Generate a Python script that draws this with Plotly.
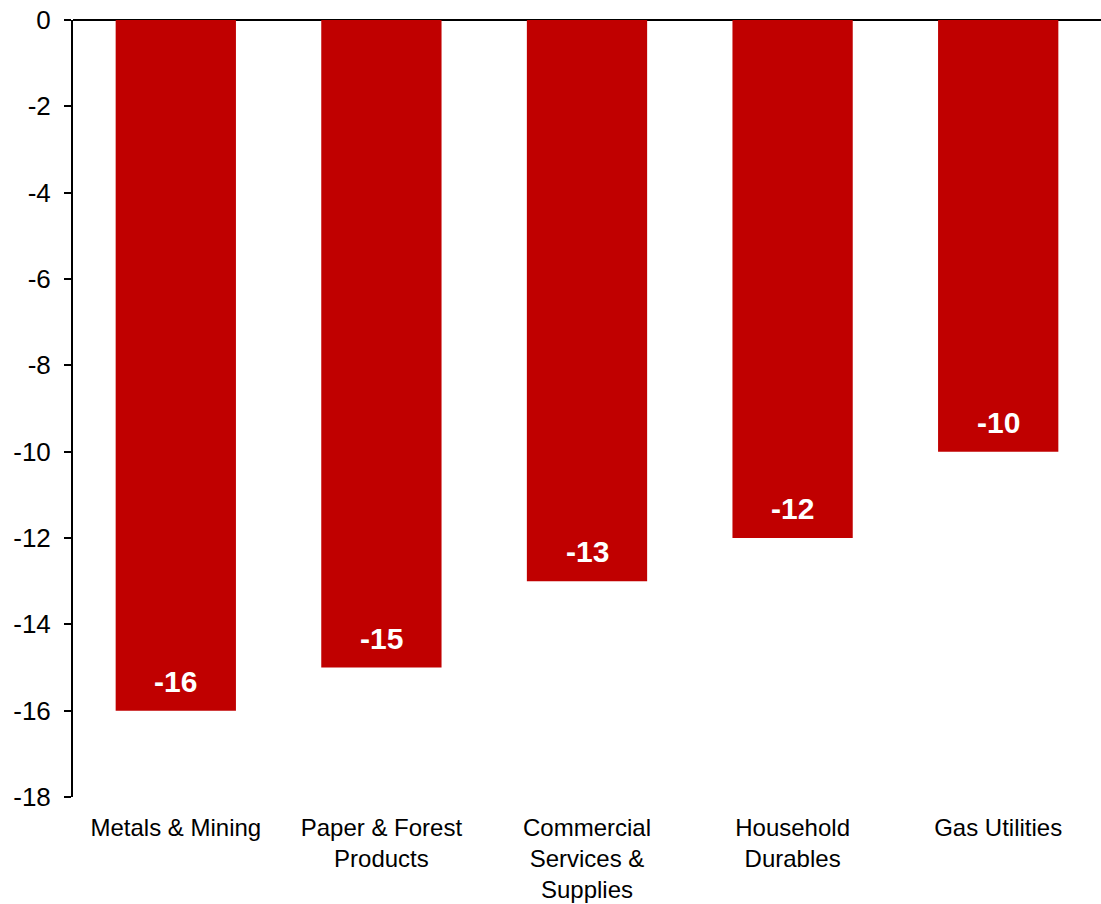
import plotly.graph_objects as go

categories = ["Metals & Mining", "Paper & Forest<br>Products", "Commercial<br>Services &<br>Supplies",
              "Household<br>Durables", "Gas Utilities"]
values = [-16, -15, -13, -12, -10]
y_ticks = [0, -2, -4, -6, -8, -10, -12, -14, -16, -18]

FONT = "Liberation Sans, Arial"

fig = go.Figure(go.Bar(
    x=categories,
    y=values,
    marker=dict(color="#C00000", line=dict(width=0)),
    width=0.585,
    hoverinfo="x+y",
))

# value labels sitting just inside the end of each bar
for cat, v in zip(categories, values):
    fig.add_annotation(
        x=cat, y=v, text=f"<b>{v}</b>",
        showarrow=False, yanchor="bottom", yshift=11,
        font=dict(family=FONT, size=30, color="white"),
    )

fig.update_layout(
    width=1101,
    height=904,
    margin=dict(l=73, r=0, t=20, b=107),
    plot_bgcolor="white",
    paper_bgcolor="white",
    font=dict(family=FONT, size=22, color="black"),
    showlegend=False,
    xaxis=dict(
        showline=False,
        showgrid=False,
        zeroline=False,
        ticks="",
        tickfont=dict(size=24),
        ticklabelstandoff=14,
        automargin=False,
    ),
    yaxis=dict(
        range=[-18, 0],
        tickvals=y_ticks,
        ticktext=[str(v) for v in y_ticks],
        showline=True,
        linecolor="black",
        linewidth=2,
        ticks="outside",
        ticklen=7,
        tickwidth=2,
        tickcolor="black",
        showgrid=False,
        zeroline=True,
        zerolinecolor="black",
        zerolinewidth=2,
        tickfont=dict(size=26),
        ticklabelstandoff=8,
        automargin=False,
    ),
)

fig.write_html("out.html")
